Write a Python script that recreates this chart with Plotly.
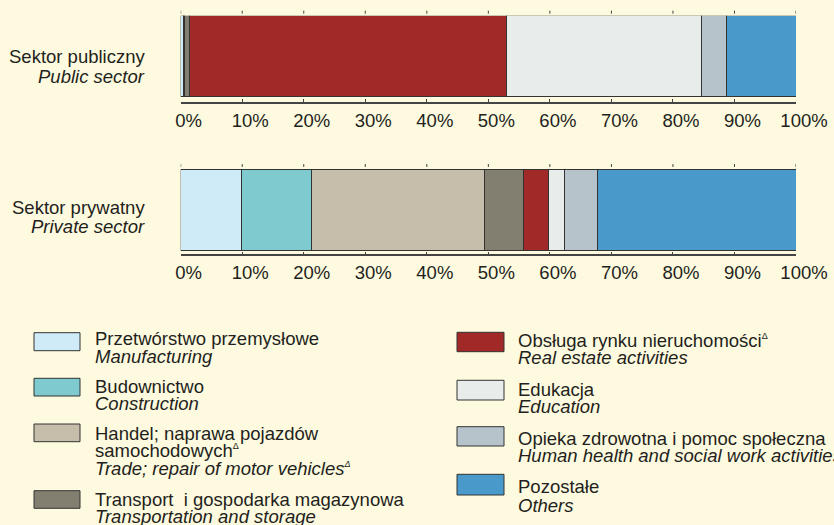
import plotly.graph_objects as go

# ---- data -----------------------------------------------------------------
sections_pl = [
    "Przetwórstwo przemysłowe",
    "Budownictwo",
    "Handel; naprawa pojazdów|samochodowych<sup><span style='font-size:9px'>Δ</span></sup>",
    "Transport  i gospodarka magazynowa",
    "Obsługa rynku nieruchomości<sup><span style='font-size:9px'>Δ</span></sup>",
    "Edukacja",
    "Opieka zdrowotna i pomoc społeczna",
    "Pozostałe",
]
sections_en = [
    "Manufacturing",
    "Construction",
    "Trade; repair of motor vehicles<sup><span style='font-size:9px'>Δ</span></sup>",
    "Transportation and storage",
    "Real estate activities",
    "Education",
    "Human health and social work activities",
    "Others",
]
colors = ["#CFEBF7", "#7FCACF", "#C6BEAA", "#827E70",
          "#A12A28", "#E8ECEA", "#B6C3CA", "#4A99CB"]

public_sector = [0.4, 0.1, 0.1, 0.9, 51.5, 31.6, 4.1, 11.3]
private_sector = [9.8, 11.5, 28.0, 6.4, 4.0, 2.6, 5.4, 32.3]

sector_labels_pl = ["Sektor publiczny", "Sektor prywatny"]
sector_labels_en = ["Public sector", "Private sector"]

tick_vals = list(range(0, 101, 10))
tick_text = [f"{v}%" for v in tick_vals]

# ---- layout constants (pixels) -------------------------------------------
W, H = 834, 525
BG = "#FEFADF"
INK = "#231F20"
EDGE = "#333333"
FONT = "Liberation Sans, Arial, sans-serif"
FS = 18.5

X0, X1 = 180.7, 796.0
panels = [  # bar top, bar bottom, axis line
    (15.7, 96.7, 101.7),
    (169.0, 250.0, 254.3),
]


def py(p):
    return 1 - p / H


def px(p):
    return p / W


fig = go.Figure()
series = [public_sector, private_sector]

for k, (values, (top, bot, axis)) in enumerate(zip(series, panels)):
    xa = "x" if k == 0 else f"x{k + 1}"
    ya = "y" if k == 0 else f"y{k + 1}"
    for i, v in enumerate(values):
        fig.add_trace(go.Bar(
            x=[v], y=[0], orientation="h", width=1,
            marker=dict(color=colors[i], line=dict(color=EDGE, width=1)),
            xaxis=xa, yaxis=ya, showlegend=False, cliponaxis=False,
            hoverinfo="skip",
        ))
    bar_px = bot - top
    gap = (axis - bot) / bar_px
    key = "" if k == 0 else str(k + 1)
    fig.layout[f"xaxis{key}"] = dict(
        domain=[px(X0), px(X1)], range=[0, 100], anchor=ya,
        showline=True, linecolor="#444444", linewidth=1.5,
        ticks="inside", ticklen=3, tickcolor="#444444", tickwidth=1,
        tickvals=tick_vals, ticktext=tick_text,
        tickfont=dict(family=FONT, size=FS, color=INK),
        ticklabelshift=8, ticklabelstandoff=1, automargin=False,
        showgrid=False, zeroline=False, fixedrange=True,
    )
    fig.layout[f"yaxis{key}"] = dict(
        domain=[py(axis), py(top)], range=[-0.5 - gap, 0.5],
        anchor=xa, visible=False, fixedrange=True, automargin=False,
    )
    # dotted tick marks above each bar
    dom_h = axis - top
    for t in tick_vals:
        fig.add_shape(type="line", xref=xa, yref=f"{ya} domain",
                      x0=t, x1=t, y0=1 + 2 / dom_h, y1=1 + 7 / dom_h,
                      line=dict(color="#444444", width=1, dash="dot"))

# sector labels
label_y = [(57, 76), (207, 226)]
for (y1, y2), pl, en in zip(label_y, sector_labels_pl, sector_labels_en):
    fig.add_annotation(text=pl, x=px(147), y=py(y1), xref="paper", yref="paper",
                       xanchor="right", yanchor="middle", showarrow=False,
                       font=dict(family=FONT, size=FS, color=INK))
    fig.add_annotation(text=f"<i>{en}</i>", x=px(147), y=py(y2), xref="paper",
                       yref="paper", xanchor="right", yanchor="middle",
                       showarrow=False, font=dict(family=FONT, size=FS, color=INK))

# legend drawn as swatches + two-line captions in two columns
legend_left = dict(sw=(34, 80), tx=93,
                   boxes=[(332.7, 350.7), (378.3, 396), (424, 441.7), (490.7, 508.3)],
                   lines=[(338, 356.7), (386.7, 403.7), (433, 450, 468), (499.7, 516)])
legend_right = dict(sw=(457, 504), tx=516,
                    boxes=[(332.3, 351.7), (380.3, 400), (426.7, 446), (474.3, 495)],
                    lines=[(340, 357), (389, 406.5), (438, 455), (486, 505.5)])

for col, offset in ((legend_left, 0), (legend_right, 4)):
    for j in range(4):
        i = offset + j
        b0, b1 = col["boxes"][j]
        fig.add_shape(type="rect", xref="paper", yref="paper",
                      x0=px(col["sw"][0]), x1=px(col["sw"][1]),
                      y0=py(b1), y1=py(b0),
                      fillcolor=colors[i], line=dict(color=EDGE, width=1))
        texts = sections_pl[i].split("|") + [f"<i>{sections_en[i]}</i>"]
        for txt, ly in zip(texts, col["lines"][j]):
            fig.add_annotation(text=txt, x=px(col["tx"]), y=py(ly),
                               xref="paper", yref="paper",
                               xanchor="left", yanchor="middle", showarrow=False,
                               font=dict(family=FONT, size=FS, color=INK))

fig.update_layout(
    width=W, height=H, barmode="stack",
    margin=dict(l=0, r=0, t=0, b=0, autoexpand=False),
    paper_bgcolor=BG, plot_bgcolor=BG,
    showlegend=False,
)

fig.write_html("out.html", config={"displayModeBar": False})
